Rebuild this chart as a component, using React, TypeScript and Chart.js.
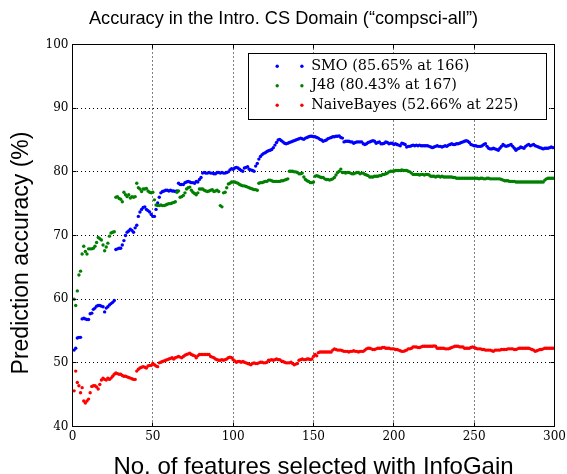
import React, { useEffect, useRef } from "react";
import { Chart, registerables } from "chart.js";

Chart.register(...registerables);

const chartTitle = "Accuracy in the Intro. CS Domain (\u201ccompsci-all\u201d)";
const xAxisLabel = "No. of features selected with InfoGain";
const yAxisLabel = "Prediction accuracy (%)";
const seriesLabels = ["SMO (85.65% at 166)", "J48 (80.43% at 167)", "NaiveBayes (52.66% at 225)"];
const seriesColors = ["#0000ff", "#008000", "#ff0000"];
const xTickValues = [0, 50, 100, 150, 200, 250, 300];
const yTickValues = [40, 50, 60, 70, 80, 90, 100];

// number of features selected, 1..300
const featureCounts: number[] = Array.from({ length: 300 }, (_, i) => i + 1);

const smoAcc = [
  52.0, 52.3, 53.9, 54.0, 54.0, 56.9, 57.0, 56.9, 56.8, 56.8,
  57.7, 57.8, 58.4, 58.6, 58.9, 59.0, 59.0, 58.9, 58.8, 58.0,
  58.6, 58.8, 59.1, 59.3, 59.5, 59.8, 67.8, 67.9, 68.0, 68.0,
  68.5, 69.2, 70.0, 70.5, 70.7, 71.0, 70.8, 70.5, 71.2, 71.6,
  73.0, 73.7, 74.1, 74.4, 74.5, 74.1, 73.9, 73.7, 73.3, 73.0,
  73.0, 74.1, 75.1, 76.0, 76.7, 76.9, 77.0, 77.1, 77.1, 77.0,
  77.1, 77.0, 77.0, 76.9, 77.0, 78.2, 78.0, 78.0, 78.0, 78.3,
  78.4, 78.5, 78.4, 78.3, 78.3, 78.2, 78.5, 78.4, 78.8, 79.1,
  79.8, 79.9, 79.8, 79.8, 79.9, 79.8, 79.8, 79.7, 79.7, 79.9,
  79.9, 79.8, 79.9, 79.8, 79.8, 79.9, 80.0, 80.3, 80.5, 80.4,
  80.6, 80.7, 80.6, 80.4, 80.2, 80.1, 80.6, 80.7, 80.8, 80.4,
  80.3, 80.2, 80.1, 80.9, 81.3, 82.0, 82.4, 82.7, 82.9, 83.0,
  83.2, 83.3, 83.4, 83.5, 83.8, 84.2, 84.6, 85.0, 85.1, 84.9,
  84.7, 84.5, 84.4, 84.5, 84.6, 84.7, 84.8, 84.9, 85.0, 85.1,
  85.2, 85.3, 85.2, 85.1, 85.3, 85.4, 85.5, 85.6, 85.6, 85.5,
  85.5, 85.4, 85.3, 85.1, 85.0, 84.8, 84.9, 85.0, 85.2, 85.3,
  85.4, 85.5, 85.5, 85.6, 85.6, 85.65, 85.4, 85.3, 84.7, 84.8,
  84.8, 84.8, 84.7, 84.7, 84.5, 84.6, 84.7, 84.7, 84.7, 84.7,
  84.4, 84.3, 84.4, 84.6, 84.7, 84.8, 84.9, 84.8, 84.5, 84.6,
  84.7, 84.4, 84.4, 84.5, 84.7, 84.6, 84.4, 84.5, 84.5, 84.3,
  84.4, 84.3, 84.2, 84.1, 84.5, 84.4, 84.3, 83.9, 84.0, 84.0,
  84.1, 84.2, 84.1, 84.2, 84.1, 84.2, 84.1, 84.1, 84.1, 84.1,
  84.1, 84.0, 83.9, 83.8, 83.9, 84.0, 84.1, 84.0, 84.0, 83.9,
  84.0, 84.1, 84.0, 84.2, 84.3, 84.4, 84.3, 84.3, 84.4, 84.4,
  84.5, 84.6, 84.7, 84.8, 84.9, 84.8, 84.6, 84.3, 84.2, 84.1,
  84.1, 84.0, 84.0, 84.0, 84.1, 84.3, 84.4, 84.0, 83.7, 83.6,
  83.6, 83.7, 83.6, 83.5, 83.4, 83.7, 84.0, 84.3, 84.1, 84.0,
  84.1, 84.2, 84.3, 84.0, 83.7, 83.4, 83.6, 83.7, 83.9, 83.8,
  83.7, 84.0, 84.2, 84.3, 84.1, 84.2, 84.3, 84.1, 84.0, 83.9,
  83.8, 83.7, 83.6, 83.7, 83.7, 83.7, 83.8, 83.9, 83.8, 83.8,
];

const j48Acc = [
  60.0, 59.0, 61.3, 63.8, 64.4, 67.1, 68.3, 67.5, 67.1, 67.9,
  67.9, 67.9, 68.0, 68.3, 68.9, 69.7, 69.5, 69.3, 68.5, 67.6,
  68.2, 68.8, 69.9, 70.4, 70.5, 70.6, 76.0, 76.1, 75.8, 75.7,
  75.3, 76.8, 76.4, 76.1, 76.4, 75.9, 76.1, 76.0, 76.1, 78.2,
  77.5, 77.3, 76.9, 77.3, 77.3, 77.4, 77.0, 76.8, 76.7, 76.8,
  75.6, 74.8, 74.7, 74.7, 74.8, 74.7, 74.7, 74.8, 74.9, 75.0,
  75.0, 75.1, 75.2, 75.3, 76.8, 77.0, 76.0, 76.1, 76.3, 76.7,
  77.3, 77.5, 77.6, 77.1, 76.8, 76.6, 76.4, 76.7, 77.3, 77.3,
  77.3, 77.1, 77.0, 76.9, 77.0, 77.1, 77.2, 76.9, 77.0, 77.1,
  76.9, 74.7, 74.5, 76.7, 76.8, 77.5, 78.1, 78.2, 78.4, 78.4,
  78.4, 78.3, 78.2, 78.0, 77.9, 77.8, 77.8, 77.7, 77.6, 77.5,
  77.4, 77.3, 77.2, 77.2, 77.1, 78.2, 78.3, 78.3, 78.4, 78.5,
  78.5, 78.7, 78.7, 78.6, 78.5, 78.5, 78.5, 78.5, 78.5, 78.6,
  78.6, 78.7, 78.8, 78.9, 80.1, 80.1, 80.1, 80.0, 80.0, 79.9,
  79.7, 79.7, 79.8, 79.2, 78.8, 78.6, 78.5, 78.3, 78.3, 78.4,
  79.3, 79.4, 79.3, 79.2, 79.1, 79.1, 78.9, 78.8, 78.8, 78.7,
  78.8, 78.9, 79.1, 79.5, 79.9, 80.1, 80.43, 79.9, 79.9, 79.8,
  79.9, 79.9, 79.8, 79.7, 79.7, 79.8, 79.9, 79.9, 79.7, 79.8,
  79.8, 79.6, 79.5, 79.4, 79.2, 79.2, 79.2, 79.3, 79.3, 79.3,
  79.4, 79.4, 79.6, 79.6, 79.7, 79.8, 80.0, 80.1, 80.1, 80.1,
  80.2, 80.2, 80.2, 80.2, 80.3, 80.2, 80.2, 80.2, 80.1, 80.0,
  79.8, 79.6, 79.6, 79.6, 79.6, 79.5, 79.6, 79.6, 79.5, 79.6,
  79.6, 79.5, 79.3, 79.3, 79.3, 79.2, 79.3, 79.3, 79.2, 79.3,
  79.2, 79.2, 79.2, 79.2, 79.2, 79.2, 79.1, 79.1, 79.0, 79.0,
  79.0, 79.0, 79.0, 79.0, 79.0, 79.0, 79.0, 79.0, 79.0, 79.0,
  79.0, 79.0, 78.9, 79.0, 79.0, 78.9, 78.9, 79.0, 79.0, 78.9,
  78.9, 78.9, 78.9, 78.9, 78.9, 78.9, 78.8, 78.7, 78.6, 78.6,
  78.6, 78.5, 78.5, 78.5, 78.5, 78.4, 78.4, 78.4, 78.4, 78.4,
  78.4, 78.4, 78.4, 78.4, 78.4, 78.4, 78.4, 78.4, 78.4, 78.4,
  78.4, 78.4, 78.4, 78.7, 78.9, 79.0, 79.0, 79.0, 79.0, 79.0,
];

const nbAcc = [
  45.6, 48.7, 46.9, 46.4, 45.3, 46.1, 44.0, 43.7, 44.0, 44.3,
  45.3, 46.3, 46.4, 46.4, 46.2, 45.9, 46.6, 47.3, 47.6, 47.4,
  47.3, 47.6, 47.4, 47.6, 47.9, 48.2, 48.4, 48.3, 48.2, 48.2,
  48.0, 47.9, 47.9, 47.8, 47.7, 47.6, 47.5, 47.4, 47.4, 48.7,
  49.0, 49.2, 49.3, 49.4, 49.3, 49.2, 49.5, 49.6, 49.6, 49.9,
  49.7, 49.5, 49.4, 50.0, 50.1, 50.2, 50.3, 50.4, 50.5, 50.6,
  50.7, 50.8, 50.6, 50.8, 50.9, 51.0, 50.9, 50.8, 51.0, 51.2,
  51.3, 51.4, 51.5, 51.3, 51.2, 51.1, 50.8, 51.1, 51.3, 51.3,
  51.3, 51.3, 51.3, 51.3, 51.3, 51.0, 50.9, 50.8, 50.6, 50.5,
  50.4, 50.4, 50.5, 50.4, 50.5, 50.6, 50.8, 50.9, 50.8, 50.5,
  50.3, 50.1, 50.2, 50.2, 50.1, 50.2, 50.1, 50.0, 49.9, 49.8,
  49.7, 49.9, 50.0, 49.9, 49.9, 50.0, 50.1, 50.1, 50.0, 50.0,
  50.1, 50.4, 50.4, 50.5, 50.4, 50.5, 50.6, 50.5, 50.5, 50.3,
  50.2, 50.1, 50.0, 50.0, 50.0, 50.1, 49.9, 49.7, 49.8, 49.9,
  50.4, 50.5, 50.6, 50.5, 50.5, 50.6, 50.6, 50.5, 50.6, 51.0,
  51.3, 51.1, 51.6, 51.7, 51.7, 51.7, 51.7, 51.7, 51.7, 51.7,
  51.7, 52.0, 52.2, 52.1, 52.0, 52.0, 52.0, 51.9, 51.8, 51.8,
  51.8, 51.7, 51.8, 51.8, 51.9, 51.8, 51.8, 51.7, 51.8, 51.8,
  51.8, 52.0, 52.2, 52.3, 52.3, 52.2, 52.1, 52.1, 52.2, 52.3,
  52.3, 52.3, 52.4, 52.4, 52.3, 52.3, 52.3, 52.2, 52.2, 52.2,
  52.1, 52.1, 52.0, 51.9, 51.8, 51.8, 51.9, 52.0, 52.2, 52.2,
  52.3, 52.5, 52.5, 52.5, 52.4, 52.4, 52.5, 52.6, 52.6, 52.6,
  52.6, 52.6, 52.6, 52.6, 52.66, 52.6, 52.3, 52.3, 52.3, 52.3,
  52.3, 52.2, 52.2, 52.2, 52.3, 52.4, 52.5, 52.6, 52.6, 52.6,
  52.5, 52.5, 52.5, 52.3, 52.3, 52.3, 52.3, 52.4, 52.5, 52.4,
  52.3, 52.2, 52.2, 52.2, 52.1, 52.1, 52.0, 52.0, 52.0, 52.0,
  51.9, 51.8, 52.0, 52.0, 52.0, 52.0, 52.1, 52.1, 52.1, 52.1,
  52.2, 52.2, 52.2, 52.2, 52.1, 52.1, 52.2, 52.3, 52.3, 52.3,
  52.3, 52.3, 52.3, 52.3, 52.2, 52.1, 52.0, 51.8, 51.9, 52.0,
  52.1, 52.1, 52.2, 52.3, 52.3, 52.3, 52.3, 52.3, 52.3, 52.3,
];

const seriesValues = [smoAcc, j48Acc, nbAcc];

const POINT_R = 1.7;

const frameAndTicks = {
  id: "frameAndTicks",
  afterDatasetsDraw(chart: any) {
    const { ctx, chartArea, scales } = chart;
    const { left, right, top, bottom } = chartArea;
    const xs = scales.x;
    const ys = scales.y;
    ctx.save();
    ctx.strokeStyle = "#000";
    ctx.lineWidth = 1;
    ctx.beginPath();
    xTickValues.forEach((v) => {
      const px = Math.round(xs.getPixelForValue(v) - 0.5) + 0.5;
      ctx.moveTo(px, bottom);
      ctx.lineTo(px, bottom - 4);
      ctx.moveTo(px, top);
      ctx.lineTo(px, top + 4);
    });
    yTickValues.forEach((v) => {
      const py = Math.round(ys.getPixelForValue(v) - 0.5) + 0.5;
      ctx.moveTo(left, py);
      ctx.lineTo(left + 4, py);
      ctx.moveTo(right, py);
      ctx.lineTo(right - 4, py);
    });
    ctx.stroke();
    ctx.strokeRect(left, top, right - left, bottom - top);
    ctx.restore();
  },
};

const yLabelPlugin = {
  id: "yLabelPlugin",
  afterDraw(chart: any) {
    const { ctx } = chart;
    ctx.save();
    ctx.translate(21.3, 253);
    ctx.rotate(-Math.PI / 2);
    ctx.font = "23px 'Liberation Sans'";
    ctx.fillStyle = "#000";
    ctx.textAlign = "center";
    ctx.textBaseline = "middle";
    ctx.fillText(yAxisLabel, 0, 0);
    ctx.restore();
  },
};

const legendBox = {
  id: "legendBox",
  afterDraw(chart: any) {
    const { ctx, chartArea } = chart;
    const boxRight = Math.round(chartArea.right - 9) + 0.5;
    const boxTop = Math.round(chartArea.top + 8) + 0.5;
    const w = 298;
    const h = 66;
    const boxLeft = boxRight - w;
    ctx.save();
    ctx.fillStyle = "#ffffff";
    ctx.fillRect(boxLeft, boxTop, w, h);
    ctx.strokeStyle = "#000";
    ctx.lineWidth = 1;
    ctx.strokeRect(boxLeft, boxTop, w, h);
    ctx.font = '14.4px "DejaVu Serif"';
    ctx.textBaseline = "middle";
    ctx.textAlign = "left";
    chart.data.datasets.forEach((ds: any, i: number) => {
      const cy = boxTop + 12.7 + i * 19.5;
      ctx.fillStyle = ds.pointBackgroundColor;
      [28.7, 53.4].forEach((dx) => {
        ctx.beginPath();
        ctx.arc(boxLeft + dx, cy, POINT_R, 0, Math.PI * 2);
        ctx.fill();
      });
      ctx.fillStyle = "#000";
      ctx.fillText(ds.label, boxLeft + 62.7, cy);
    });
    ctx.restore();
  },
};

export default function App() {
  const ref = useRef<HTMLCanvasElement | null>(null);

  useEffect(() => {
    if (!ref.current) return;
    const datasets = seriesValues.map((vals, s) => ({
      label: seriesLabels[s],
      data: featureCounts.map((x, i) => ({ x, y: vals[i] })),
      pointBackgroundColor: seriesColors[s],
      backgroundColor: seriesColors[s],
      pointBorderWidth: 0,
      borderWidth: 0,
      pointRadius: POINT_R,
      pointHoverRadius: POINT_R,
      showLine: false,
      order: 3 - s,
    }));
    const tickFont = { family: "'DejaVu Serif'", size: 12 };
    const chart = new Chart(ref.current, {
      type: "scatter",
      data: { datasets },
      plugins: [frameAndTicks, legendBox, yLabelPlugin],
      options: {
        animation: false,
        responsive: false,
        devicePixelRatio: 1,
        events: [],
        layout: { padding: 0 },
        plugins: {
          legend: { display: false },
          tooltip: { enabled: false },
          title: {
            display: true,
            text: chartTitle,
            color: "#000",
            font: { family: "'Liberation Sans'", size: 18.2, weight: "normal", lineHeight: 1.2 },
            padding: { top: 8, bottom: 44.5 - 8 - 18.2 * 1.2 },
          },
        },
        scales: {
          x: {
            type: "linear",
            min: 0,
            max: 300,
            afterBuildTicks: (scale: any) => {
              scale.ticks = xTickValues.map((v) => ({ value: v }));
            },
            afterFit: (scale: any) => {
              scale.height = 47.5;
              scale.paddingRight = 12.5;
            },
            ticks: { color: "#000", font: tickFont, padding: 3, maxRotation: 0, autoSkip: false },
            grid: { color: "#000", lineWidth: 1, drawTicks: false },
            border: { display: false, dash: [1, 3] },
            title: {
              display: true,
              text: xAxisLabel,
              color: "#000",
              font: { family: "'Liberation Sans'", size: 24, weight: "normal" },
              padding: { top: 0, bottom: -8 },
            },
          },
          y: {
            type: "linear",
            min: 40,
            max: 100,
            afterBuildTicks: (scale: any) => {
              scale.ticks = yTickValues.map((v) => ({ value: v }));
            },
            afterFit: (scale: any) => {
              scale.width = 72.5;
            },
            ticks: { color: "#000", font: tickFont, padding: 4, autoSkip: false },
            grid: { color: "#000", lineWidth: 1, drawTicks: false },
            border: { display: false, dash: [1, 3] },
            title: { display: false },
          },
        },
      } as any,
    });
    return () => chart.destroy();
  }, []);

  return (
    <div style={{ position: "absolute", left: 0, top: 0, width: 567, height: 474, background: "#fff" }}>
      <canvas ref={ref} width={567} height={474} style={{ display: "block", width: 567, height: 474 }} />
    </div>
  );
}
